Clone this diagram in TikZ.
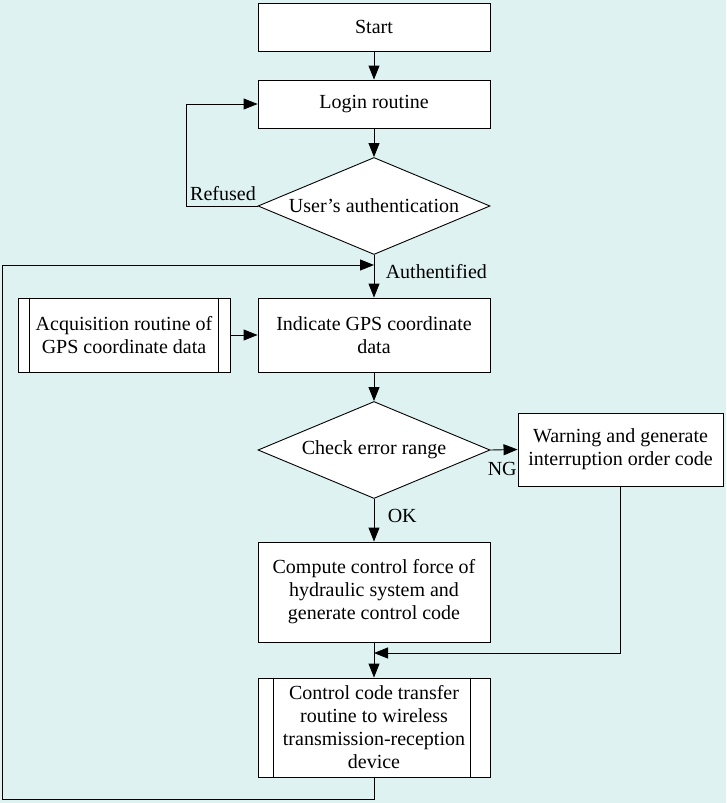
\documentclass[tikz,border=0pt]{standalone}
\usepackage{fontspec}
\setmainfont{Liberation Serif}
\usepackage{tikz}
\usetikzlibrary{shapes.geometric,arrows.meta}
\definecolor{bgcyan}{RGB}{222,242,242}

\begin{document}
\begin{tikzpicture}[x=1pt,y=-1pt,line width=0.9pt,
    txt/.style={font=\fontsize{20}{23}\selectfont},
    box/.style={txt, draw, fill=white, align=center, minimum width=232pt, inner sep=2pt},
    decision/.style={txt, draw, fill=white, diamond, aspect=2.4, inner sep=0pt, minimum width=232pt, minimum height=97pt},
    arr/.style={-{Triangle[length=14pt,width=11pt]}}]
    % fundo
    \fill[bgcyan] (0,0) rectangle (726,803);
    \useasboundingbox (0,0) rectangle (726,803);
    % caixas principais
    \node[box, minimum height=48pt] (start) at (374,27) {Start};
    \node[box, minimum height=48pt] (login) at (374,104) {Login routine};
    \node[decision] (auth) at (374,206) {User’s authentication};
    \node[box, minimum height=74pt] (gps) at (374,335) {Indicate GPS coordinate\\data};
    \node[box, minimum width=212pt, minimum height=74pt] (acq) at (124,335) {Acquisition routine of\\GPS coordinate data};
    \node[decision] (check) at (374,450) {Check error range};
    \node[box, minimum width=205pt, minimum height=73pt] (warn) at (620.5,449.5) {Warning and generate\\interruption order code};
    \node[box, minimum height=100pt] (comp) at (374,592) {Compute control force of\\hydraulic system and\\generate control code};
    \node[box, minimum height=99pt] (xfer) at (374,727.5) {Control code transfer\\routine to wireless\\transmission-reception\\device};
    % barras laterais dos sub-processos
    \draw ([xshift=12pt]acq.north west) -- ([xshift=12pt]acq.south west);
    \draw ([xshift=-12pt]acq.north east) -- ([xshift=-12pt]acq.south east);
    \draw ([xshift=16pt]xfer.north west) -- ([xshift=16pt]xfer.south west);
    \draw ([xshift=-20pt]xfer.north east) -- ([xshift=-20pt]xfer.south east);
    % rótulos
    \node[txt, anchor=base] (refused) at (223,200) {Refused};
    \node[txt, anchor=base west] (authd) at (382,278) {Authentified};
    \node[txt, anchor=base west] (ng) at (484,475) {NG};
    \node[txt, anchor=base west] (ok) at (384,522) {OK};
    % pontos de retorno
    \coordinate (rl) at (186,206);
    \coordinate (join) at (374,265);
    \coordinate (lb) at (2,799);
    \coordinate (merge) at (374,653);
    % setas
    \draw[arr] (start) -- (login);
    \draw[arr] (login) -- (auth);
    \draw[arr] (auth.west) -- (rl) |- (login.west);
    \draw[arr] (auth.south) -- (gps.north);
    \draw[arr] (acq) -- (gps);
    \draw[arr] (gps) -- (check);
    \draw[arr] (check.east) -- (warn.west);
    \draw[arr] (check.south) -- (comp.north);
    \draw[arr] (comp) -- (xfer);
    \draw[arr] (warn.south) |- (merge);
    \draw[arr] (xfer.south) |- (lb) |- (join);
  \end{tikzpicture}
\end{document}
